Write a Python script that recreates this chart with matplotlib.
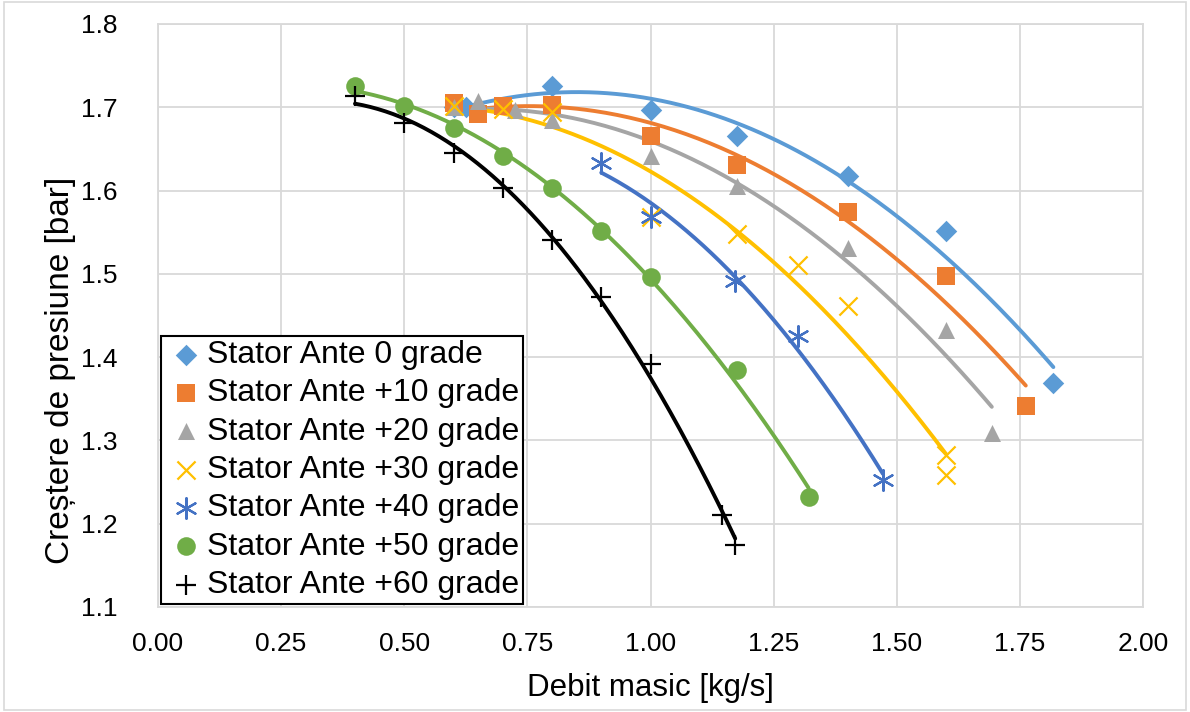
import numpy as np
import matplotlib
matplotlib.use("Agg")
import matplotlib.pyplot as plt

# data
labels = ["Stator Ante 0 grade", "Stator Ante +10 grade", "Stator Ante +20 grade",
          "Stator Ante +30 grade", "Stator Ante +40 grade", "Stator Ante +50 grade",
          "Stator Ante +60 grade"]

x_0 = [0.60, 0.625, 0.80, 1.00, 1.175, 1.40, 1.60, 1.818]
y_0 = [1.700, 1.700, 1.725, 1.697, 1.665, 1.617, 1.552, 1.369]

x_10 = [0.60, 0.65, 0.70, 0.80, 1.00, 1.175, 1.40, 1.60, 1.762]
y_10 = [1.705, 1.692, 1.701, 1.703, 1.666, 1.631, 1.574, 1.498, 1.341]

x_20 = [0.60, 0.65, 0.725, 0.80, 1.00, 1.175, 1.40, 1.60, 1.693]
y_20 = [1.700, 1.707, 1.697, 1.685, 1.641, 1.606, 1.531, 1.433, 1.309]

x_30 = [0.60, 0.70, 0.80, 1.00, 1.175, 1.30, 1.40, 1.60, 1.60]
y_30 = [1.702, 1.698, 1.694, 1.568, 1.548, 1.511, 1.462, 1.283, 1.259]

x_40 = [0.90, 1.00, 1.172, 1.30, 1.472]
y_40 = [1.633, 1.568, 1.492, 1.425, 1.253]

x_50 = [0.40, 0.50, 0.60, 0.70, 0.80, 0.90, 1.00, 1.175, 1.321]
y_50 = [1.726, 1.702, 1.675, 1.641, 1.603, 1.552, 1.496, 1.384, 1.232]

x_60 = [0.40, 0.50, 0.60, 0.70, 0.80, 0.90, 1.00, 1.146, 1.172]
y_60 = [1.714, 1.681, 1.645, 1.603, 1.541, 1.472, 1.392, 1.211, 1.175]

series = [(x_0, y_0), (x_10, y_10), (x_20, y_20), (x_30, y_30),
          (x_40, y_40), (x_50, y_50), (x_60, y_60)]
colors = ["#5B9BD5", "#ED7D31", "#A5A5A5", "#FFC000", "#4472C4", "#70AD47", "#000000"]
markers = ["D", "s", "^", "x", (6, 2, 0), "o", "+"]
sizes = [120, 180, 150, 170, 220, 180, 190]

plt.rcParams["font.family"] = ["Liberation Sans", "DejaVu Sans"]

fig = plt.figure(figsize=[11.9, 7.12], dpi=100)
ax = fig.add_axes([158/1190, 1 - 607/712, (1143-158)/1190, (607-24)/712])

for (xs, ys), c, m, s, lab in zip(series, colors, markers, sizes, labels):
	xs = np.asarray(xs)
	ys = np.asarray(ys)
	# polynomial trendline like excel
	p = np.polyfit(xs, ys, 2)
	xf = np.linspace(xs.min(), xs.max(), 200)
	ax.plot(xf, np.polyval(p, xf), color=c, linewidth=2.8, zorder=2, solid_capstyle="round")
	lw = 1.6 if m in ("x", "+") or isinstance(m, tuple) else 0
	ax.scatter(xs, ys, marker=m, s=s, color=c, linewidths=lw, zorder=3, label=lab)

ax.set_xlim(0, 2.0)
ax.set_ylim(1.1, 1.8)
ax.set_xticks(np.arange(0, 2.01, 0.25))
ax.set_yticks(np.arange(1.1, 1.81, 0.1))
ax.set_xticklabels(["0.00", "0.25", "0.50", "0.75", "1.00", "1.25", "1.50", "1.75", "2.00"])
ax.set_yticklabels(["1.1", "1.2", "1.3", "1.4", "1.5", "1.6", "1.7", "1.8"])
ax.tick_params(length=0, labelsize=19, colors="black")
ax.tick_params(axis="y", pad=29)
ax.tick_params(axis="x", pad=18)
ax.grid(True, color="#D9D9D9", linewidth=1.3)
ax.set_axisbelow(True)
for sp in ax.spines.values():
	sp.set_color("#D9D9D9")
	sp.set_linewidth(1.3)

ax.set_xlabel("Debit masic [kg/s]", fontsize=22.5)
ax.xaxis.set_label_coords(0.5, -(673 - 607) / 583)
ax.set_ylabel("Creștere de presiune [bar]", fontsize=24)
ax.yaxis.set_label_coords(-(158 - 76) / 985, (607 - 370) / 583)

leg = ax.legend(loc="lower left", bbox_to_anchor=(0.0, 0.0), fontsize=23, frameon=True,
                fancybox=False, framealpha=1, edgecolor="black", handletextpad=0.0,
                borderpad=0.12, labelspacing=0.26, handlelength=1.3, borderaxespad=0.1)
leg.get_frame().set_linewidth(1.5)

# light border round the chart area
fig.patches.append(plt.Rectangle((0.003, 0.003), 0.994, 0.994, transform=fig.transFigure,
                                 fill=False, edgecolor="#D9D9D9", linewidth=1.2))

fig.savefig("out.png", dpi=100)
